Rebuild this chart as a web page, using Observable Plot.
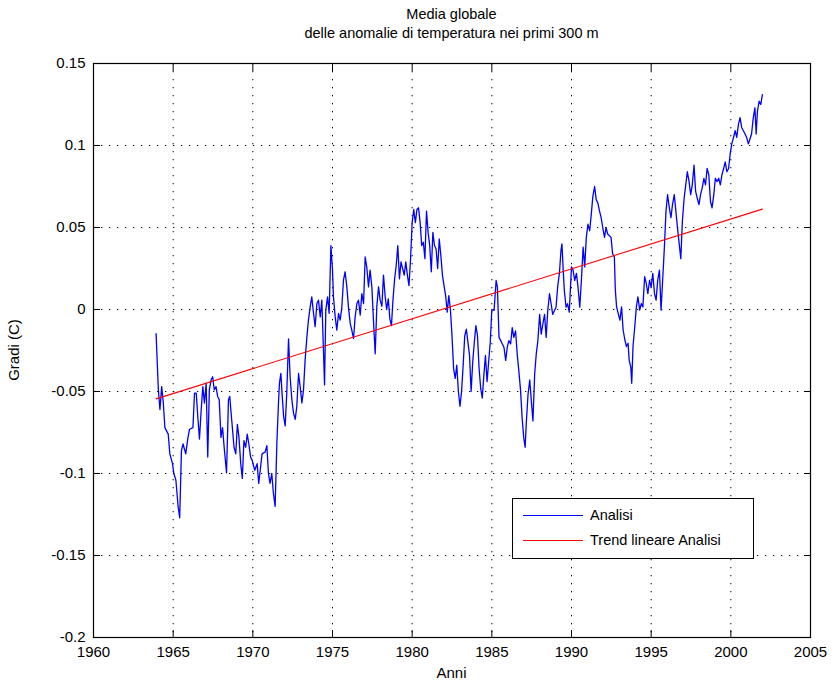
<!DOCTYPE html>
<html>
<head>
<meta charset="utf-8">
<script src="https://cdn.jsdelivr.net/npm/d3@7"></script>
<script src="https://cdn.jsdelivr.net/npm/@observablehq/plot@0.6"></script>
<style>
  body { margin: 0; background: #fff; }
  #wrap { position: relative; width: 840px; height: 684px; font-family: "Liberation Sans", Arial, sans-serif; color: #000; overflow: hidden; }
  #chart { position: absolute; left: 0; top: 0; }
  .ttl { position: absolute; left: 93px; width: 717px; text-align: center; font-size: 14.5px; line-height: 18px; white-space: nowrap; }
  #xlab { position: absolute; left: 93px; width: 717px; top: 664px; text-align: center; font-size: 15px; line-height: 18px; }
  #ylab { position: absolute; left: 14px; top: 350px; transform: translate(-50%, -50%) rotate(-90deg); font-size: 15px; line-height: 18px; white-space: nowrap; }
  #legend { position: absolute; left: 512px; top: 498px; width: 242px; height: 61px; border: 1px solid #000; background: #fff; box-sizing: border-box; font-size: 14.5px; }
  .lrow { position: absolute; left: 0; height: 18px; display: flex; align-items: center; }
  .lline { width: 60px; height: 0; margin-left: 10px; margin-right: 7px; }
</style>
</head>
<body>
<div id="wrap">
  <div id="chart"></div>
  <div class="ttl" id="t1" style="top:5px"></div>
  <div class="ttl" id="t2" style="top:24px"></div>
  <div id="xlab"></div>
  <div id="ylab"></div>
  <div id="legend"></div>
</div>
<script>
// ---- Text ----
const titleLines = ["Media globale", "delle anomalie di temperatura nei primi 300 m"];
const xLabel = "Anni";
const yLabel = "Gradi (C)";
const seriesNames = ["Analisi", "Trend lineare Analisi"];
const seriesColors = ["#0000ff", "#ff0000"];

// ---- Axes ----
const xTicks = [1960, 1965, 1970, 1975, 1980, 1985, 1990, 1995, 2000, 2005];
const yTicks = [-0.2, -0.15, -0.1, -0.05, 0, 0.05, 0.1, 0.15];
const yTickLabels = ["-0.2", "-0.15", "-0.1", "-0.05", "0", "0.05", "0.1", "0.15"];

// ---- Series: Analisi ----
const years = [
1963.93,1963.97,1964.07,1964.17,1964.28,1964.38,1964.48,1964.69,1964.79,1964.96,
1965.04,1965.17,1965.31,1965.41,1965.52,1965.62,1965.79,1965.93,1966.03,1966.24,
1966.34,1966.45,1966.55,1966.65,1966.76,1966.86,1966.96,1967.07,1967.17,1967.27,
1967.38,1967.48,1967.58,1967.69,1967.79,1967.89,1968.00,1968.10,1968.20,1968.35,
1968.47,1968.55,1968.68,1968.82,1968.93,1969.03,1969.13,1969.24,1969.34,1969.44,
1969.55,1969.65,1969.75,1969.86,1969.96,1970.12,1970.27,1970.37,1970.58,
1970.77,1970.88,1970.98,1971.08,1971.19,1971.29,1971.40,1971.51,1971.61,1971.67,
1971.76,1971.82,1971.93,1972.03,1972.13,1972.24,1972.34,1972.45,1972.55,1972.66,
1972.76,1972.87,1972.97,1973.08,1973.18,1973.28,1973.39,1973.49,1973.60,1973.70,
1973.81,1973.91,1974.02,1974.12,1974.23,1974.33,1974.44,1974.50,1974.58,1974.69,
1974.79,1974.90,1975.00,1975.06,1975.17,1975.27,1975.38,1975.48,1975.58,1975.69,
1975.79,1975.90,1976.00,1976.11,1976.21,1976.32,1976.42,1976.53,1976.63,1976.74,
1976.84,1976.95,1977.05,1977.15,1977.26,1977.36,1977.47,1977.57,1977.68,1977.78,
1977.89,1977.99,
1978.10,1978.20,1978.30,1978.40,1978.50,1978.60,1978.70,1978.80,1978.90,1979.00,
1979.10,1979.20,1979.30,1979.40,1979.50,1979.60,1979.70,1979.80,1979.90,1980.00,
1980.10,1980.20,1980.30,1980.40,1980.50,1980.60,1980.70,1980.80,1980.90,1981.00,
1981.10,1981.20,1981.30,1981.40,1981.50,1981.60,1981.70,1981.80,1981.90,1982.00,
1982.10,1982.20,1982.30,1982.40,1982.50,1982.60,1982.70,1982.80,1982.90,1983.00,
1983.10,1983.20,1983.30,1983.40,1983.50,1983.60,1983.70,1983.80,1983.90,1984.00,
1984.10,1984.20,1984.30,1984.40,1984.50,1984.60,1984.70,1984.80,1984.90,1985.00,
1985.14,1985.27,1985.35,1985.45,1985.56,1985.66,1985.76,1985.87,1985.97,1986.07,
1986.18,1986.28,1986.38,1986.49,1986.59,1986.69,1986.80,1986.90,1987.00,1987.09,
1987.17,1987.27,1987.38,1987.48,1987.58,1987.69,1987.79,1987.89,1988.00,1988.10,
1988.20,1988.31,1988.41,1988.51,1988.62,1988.72,1988.82,1988.93,1989.03,1989.13,
1989.24,1989.34,1989.40,1989.48,1989.55,1989.66,1989.75,1989.86,1990.00,1990.10,
1990.20,1990.31,1990.41,1990.52,1990.62,1990.73,1990.83,1990.93,1991.03,1991.14,
1991.24,1991.34,1991.45,1991.55,1991.65,1991.76,1991.86,1991.96,1992.07,1992.17,
1992.27,
1992.48,1992.58,1992.69,1992.75,1992.83,1992.93,1993.04,1993.14,1993.24,1993.35,
1993.45,1993.55,1993.62,1993.72,1993.78,1993.86,1993.97,1994.07,1994.17,1994.28,
1994.38,1994.48,1994.59,1994.69,1994.79,1994.90,1995.00,1995.10,1995.21,1995.31,
1995.41,1995.52,1995.62,1995.72,1995.83,1995.93,1996.03,1996.14,1996.24,1996.34,
1996.45,1996.55,1996.65,1996.76,1996.86,1996.96,1997.07,1997.17,1997.27,1997.38,
1997.48,1997.58,1997.69,1997.79,1997.89,1998.00,1998.10,1998.20,1998.31,1998.41,
1998.51,1998.62,1998.72,1998.82,1998.93,1999.03,1999.13,1999.24,1999.34,1999.44,
1999.55,1999.65,1999.75,1999.86,1999.96,2000.06,2000.17,2000.27,2000.37,2000.48,
2000.58,2000.68,2000.79,2000.89,2000.99,2001.10,2001.20,2001.30,2001.41,2001.51,
2001.59,2001.67,2001.78,2001.88,2001.98
];
const anomalies = [
-0.0148,-0.025,-0.049,-0.061,-0.047,-0.057,-0.072,-0.076,-0.088,-0.094,
-0.100,-0.104,-0.120,-0.127,-0.086,-0.082,-0.088,-0.078,-0.073,-0.072,
-0.051,-0.051,-0.066,-0.079,-0.061,-0.047,-0.057,-0.045,-0.090,-0.049,
-0.043,-0.041,-0.049,-0.047,-0.053,-0.055,-0.078,-0.072,-0.084,-0.0996,
-0.055,-0.053,-0.068,-0.084,-0.088,-0.070,-0.078,-0.094,-0.103,-0.080,
-0.084,-0.076,-0.082,-0.090,-0.092,-0.098,-0.094,-0.106,-0.088,
-0.087,-0.083,-0.100,-0.106,-0.100,-0.112,-0.120,-0.081,-0.057,-0.045,
-0.039,-0.049,-0.065,-0.071,-0.051,-0.018,-0.041,-0.055,-0.063,-0.067,
-0.059,-0.039,-0.047,-0.057,-0.049,-0.031,-0.017,-0.0065,0.0016,0.0077,
-0.0024,-0.0105,0.0036,0.0057,-0.0045,0.0057,-0.027,-0.046,-0.0004,0.0077,
-0.0024,0.039,0.024,0.0077,-0.0045,-0.0126,-0.0024,-0.0065,0.0006,0.018,
0.023,0.0138,0.0016,-0.0085,-0.0126,-0.0176,-0.0045,0.0036,0.0057,-0.0034,
0.0097,0.0036,0.032,0.026,0.0138,0.024,0.0138,-0.0065,-0.027,0.0016,
0.0138,0.0057,
0.002,0.021,0.0085,0.0,0.0065,-0.0057,-0.0098,0.0065,0.0187,0.027,
0.039,0.0187,0.029,0.025,0.021,0.029,0.021,0.0146,0.031,0.053,
0.061,0.053,0.061,0.062,0.053,0.039,0.041,0.031,0.060,0.047,
0.039,0.023,0.047,0.039,0.037,0.025,0.043,0.033,0.021,0.0146,
0.0085,-0.0016,0.0085,0.0,-0.016,-0.036,-0.042,-0.034,-0.050,-0.059,
-0.050,-0.034,-0.016,-0.012,-0.020,-0.028,-0.050,-0.032,-0.020,-0.0098,
-0.016,-0.036,-0.048,-0.054,-0.040,-0.028,-0.044,-0.032,-0.020,0.0,
-0.0006,0.0177,0.0136,-0.017,-0.019,-0.021,-0.023,-0.031,-0.023,-0.019,
-0.021,-0.011,-0.017,-0.013,-0.027,-0.037,-0.049,-0.066,-0.078,-0.084,
-0.068,-0.052,-0.043,-0.056,-0.068,-0.039,-0.027,-0.019,-0.003,-0.015,
-0.009,-0.003,-0.017,-0.0006,0.0096,0.0035,-0.003,-0.0006,0.0014,0.0136,
0.022,0.036,0.040,0.024,0.0116,0.0014,0.0035,-0.0016,0.026,0.024,
0.0177,0.022,0.0136,0.0014,0.0177,0.038,0.026,0.044,0.052,0.048,
0.058,0.069,0.075,0.067,0.065,0.060,0.056,0.050,0.044,0.050,
0.046,
0.044,0.034,0.032,0.012,0.0016,-0.0024,-0.0065,0.0016,-0.0125,-0.0186,
-0.0226,-0.0206,-0.031,-0.035,-0.045,-0.0226,-0.0105,0.0016,0.0077,-0.0004,
0.0036,0.0016,0.020,0.016,0.0097,0.0178,0.0137,0.022,0.0097,0.0057,
0.0178,0.024,-0.0004,0.0178,0.038,0.060,0.070,0.062,0.056,0.064,
0.070,0.060,0.050,0.040,0.031,0.054,0.068,0.076,0.084,0.078,
0.070,0.076,0.088,0.072,0.068,0.064,0.070,0.074,0.080,0.076,
0.086,0.082,0.066,0.062,0.070,0.080,0.078,0.080,0.076,0.082,
0.086,0.090,0.084,0.086,0.095,0.101,0.105,0.109,0.105,0.113,
0.117,0.111,0.109,0.107,0.105,0.101,0.104,0.107,0.117,0.123,
0.107,0.121,0.127,0.125,0.131
];

// ---- Series: Trend lineare Analisi (endpoints of the fitted line) ----
const trendYears = [1963.93, 2001.98];
const trendValues = [-0.0545, 0.0612];

const analisi = years.map((y, i) => ({year: y, value: anomalies[i]}));
const trend = trendYears.map((y, i) => ({year: y, value: trendValues[i]}));

const yFmt = d => {
  const i = yTicks.findIndex(t => Math.abs(t - d) < 1e-9);
  return i >= 0 ? yTickLabels[i] : "";
};
const dotted = {stroke: "#000", strokeOpacity: 1, strokeWidth: 1, strokeDasharray: "1.3,6.7"};

const chart = Plot.plot({
  width: 840,
  height: 684,
  marginLeft: 93,
  marginRight: 30,
  marginTop: 63,
  marginBottom: 47,
  style: {fontFamily: "'Liberation Sans', Arial, sans-serif", fontSize: "15px", color: "#000", background: "#fff"},
  x: {domain: [1960, 2005], label: null},
  y: {domain: [-0.2, 0.15], label: null},
  marks: [
    Plot.gridX(xTicks, dotted),
    Plot.gridY(yTicks, dotted),
    Plot.axisX(xTicks, {anchor: "bottom", tickSize: -7, tickPadding: 16, tickFormat: d => String(d), label: null, stroke: "#000"}),
    Plot.axisX(xTicks, {anchor: "top", tickSize: -7, tickFormat: () => "", label: null, stroke: "#000"}),
    Plot.axisY(yTicks, {anchor: "left", tickSize: -7, tickPadding: 15, tickFormat: yFmt, label: null, stroke: "#000"}),
    Plot.axisY(yTicks, {anchor: "right", tickSize: -7, tickFormat: () => "", label: null, stroke: "#000"}),
    Plot.line(analisi, {x: "year", y: "value", stroke: seriesColors[0], strokeWidth: 1.3}),
    Plot.line(trend, {x: "year", y: "value", stroke: seriesColors[1], strokeWidth: 1.1}),
    Plot.frame({stroke: "#000", strokeWidth: 1.2})
  ]
});
document.getElementById("chart").appendChild(chart);

document.getElementById("t1").textContent = titleLines[0];
document.getElementById("t2").textContent = titleLines[1];
document.getElementById("xlab").textContent = xLabel;
document.getElementById("ylab").textContent = yLabel;

const legend = document.getElementById("legend");
seriesNames.forEach((name, i) => {
  const row = document.createElement("div");
  row.className = "lrow";
  row.style.top = (7 + i * 25) + "px";
  const ln = document.createElement("div");
  ln.className = "lline";
  ln.style.borderTop = "1.3px solid " + seriesColors[i];
  const tx = document.createElement("span");
  tx.textContent = name;
  row.appendChild(ln);
  row.appendChild(tx);
  legend.appendChild(row);
});
</script>
</body>
</html>
